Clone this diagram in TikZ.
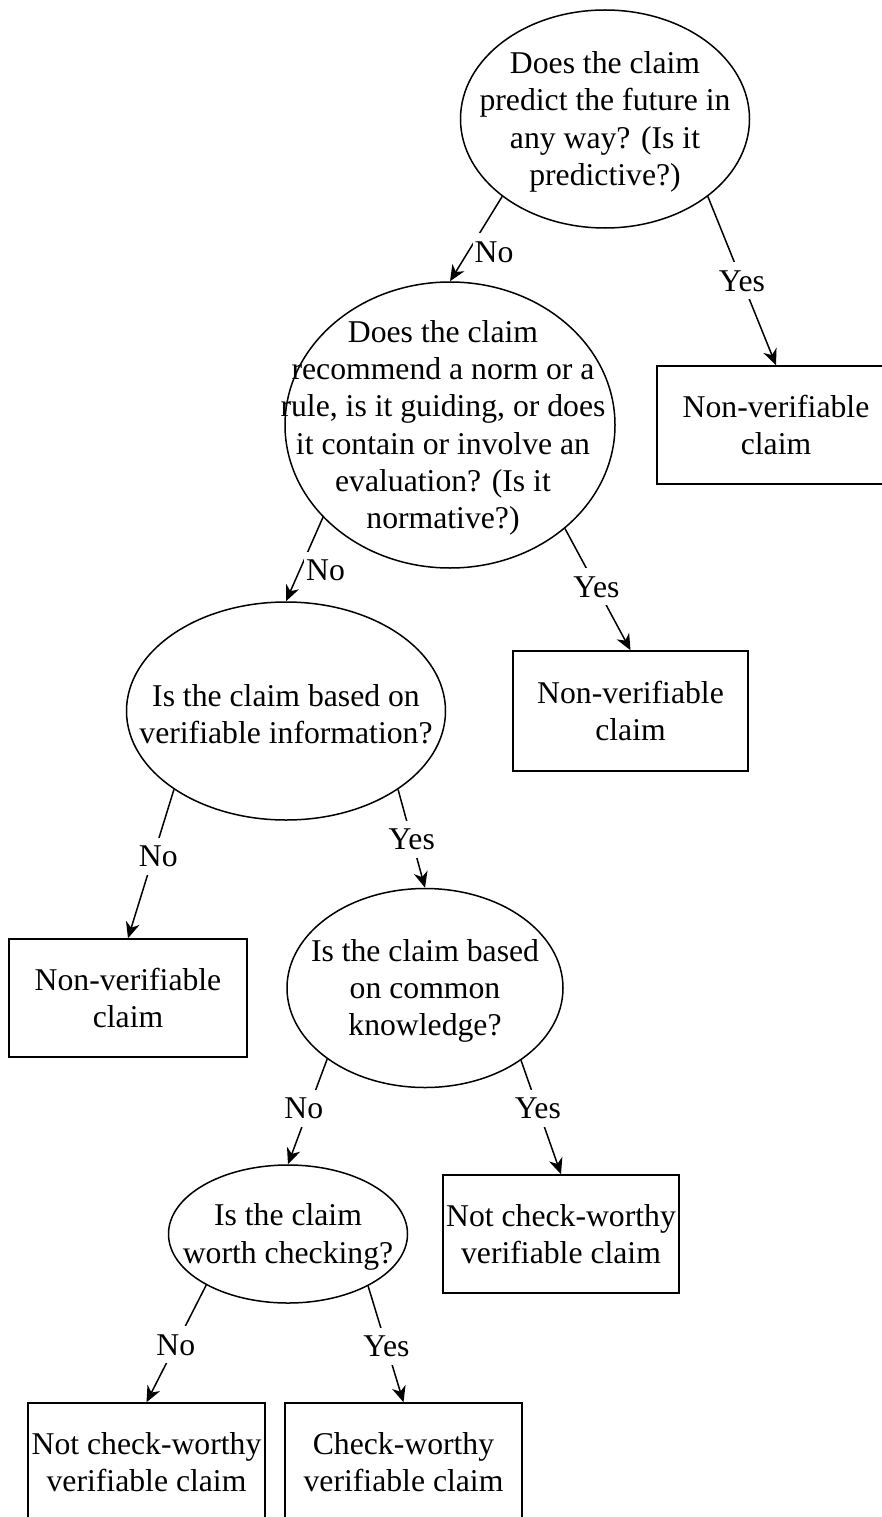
\documentclass[tikz,border=0pt]{standalone}
\usepackage{fontspec}
\setmainfont{Liberation Serif}
\usetikzlibrary{shapes.geometric,arrows.meta}

\begin{document}
\begin{tikzpicture}[x=1pt,y=-1pt,
  every node/.style={font=\fontsize{31.7}{37.3}\selectfont},
  question/.style={shape=ellipse,draw=black,line width=1.5pt,inner sep=0pt},
  qtext/.style={label={[align=center,yshift=-3pt]center:#1}},
  answer/.style={shape=rectangle,draw=black,line width=1.5pt,minimum width=237,minimum height=118,inner sep=0pt,align=center},
  lbl/.style={fill=white,inner xsep=2pt,inner ysep=8pt},
  arr/.style={line width=1.5pt,-{Stealth[length=16pt,width=14pt,inset=5pt]}}]
  \useasboundingbox (0,0) rectangle (882,1517);
  \clip (0,0) rectangle (882,1517);

  % questions
  \node[question,minimum width=289,minimum height=218,
    qtext={Does the claim\\predict the future in\\any way? (Is it\\predictive?)}] (e1) at (605,119) {};
  \node[question,minimum width=330,minimum height=286,
    label={[align=center,xshift=-7pt,yshift=-3pt]center:Does the claim\\recommend a norm or a\\rule, is it guiding, or does\\it contain or involve an\\evaluation? (Is it\\normative?)}] (e2) at (450,425) {};
  \node[question,minimum width=319,minimum height=218,
    qtext={Is the claim based on\\verifiable information?}] (e3) at (286,711) {};
  \node[question,minimum width=276,minimum height=199,
    qtext={Is the claim based\\on common\\knowledge?}] (e4) at (425,988) {};
  \node[question,minimum width=239,minimum height=138,
    qtext={Is the claim\\worth checking?}] (e5) at (288,1234) {};

  % outcomes
  \node[answer,minimum width=238] (b1) at (776,425) {Non-verifiable\\claim};
  \node[answer,minimum width=235,minimum height=120] (b2) at (630.5,711) {Non-verifiable\\claim};
  \node[answer,minimum width=238] (b3) at (128,998) {Non-verifiable\\claim};
  \node[answer,minimum width=236] (b4) at (561,1234) {Not check-worthy\\verifiable claim};
  \node[answer] (b5) at (146.5,1462) {Not check-worthy\\verifiable claim};
  \node[answer] (b6) at (403.5,1462) {Check-worthy\\verifiable claim};

  \path [arr] (e1.217) edge node[lbl,pos=0.655,xshift=26] {No} (e2.north);
  \path [arr] (e1.323) edge node[lbl,pos=0.5] {Yes} (b1.north);
  \path [arr] (e2.216.6) edge node[lbl,pos=0.634,xshift=26] {No} (e3.north);
  \path [arr] (e2.318) edge node[lbl,pos=0.48] {Yes} (b2.north);
  \path [arr] (e3.215) edge node[lbl,pos=0.45,xshift=5] {No} (b3.north);
  \path [arr] (e3.325) edge node[lbl,pos=0.51] {Yes} (e4.north);
  \path [arr] (e4.216) edge node[lbl,pos=0.47,xshift=-5] {No} (e5.north);
  \path [arr] (e4.323) edge node[lbl,pos=0.42] {Yes} (b4.north);
  \path [arr] (e5.212) edge node[lbl,pos=0.51] {No} (b5.north);
  \path [arr] (e5.327) edge node[lbl,pos=0.52] {Yes} (b6.north);
\end{tikzpicture}
\end{document}
